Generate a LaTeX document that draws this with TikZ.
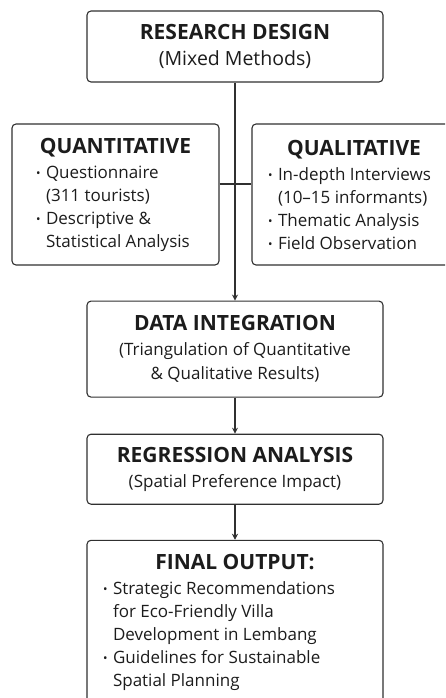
\documentclass[tikz,border=0pt]{standalone}
\usepackage{fontspec}
\usepackage{graphicx}
\setmainfont{Open Sans}
\usetikzlibrary{positioning,arrows.meta}

\definecolor{ink}{HTML}{1C1C1C}
\definecolor{rule}{HTML}{303030}

\newcommand{\headtxt}[1]{{\fontsize{21}{25}\selectfont\bfseries #1}}
\newcommand{\headline}[2]{\makebox[#1]{\headtxt{#2}}}
\newcommand{\bodytxt}{\fontsize{17}{23}\selectfont}
\newcommand{\itm}{\makebox[10pt][l]{\raisebox{1pt}{\scalebox{0.7}{\textbullet}}}}
\newcommand{\cnt}{\hspace*{10pt}}

\begin{document}
\begin{tikzpicture}[x=1pt, y=-1pt, >={Stealth[length=6pt,width=6pt]}]

\useasboundingbox (0,0) rectangle (445,698);
\clip (0,0) rectangle (445,698);

% box and line styles
\tikzstyle{stage} = [rectangle, rounded corners=4pt, draw=rule, line width=1.1pt, minimum width=296pt, text=ink, align=center, font=\bodytxt, inner sep=0pt]
\tikzstyle{branch} = [stage, align=left, minimum width=0pt, minimum height=141pt]
\tikzstyle{link} = [draw=rule, line width=1.1pt]
\tikzstyle{arrow} = [link, ->]

% boxes
\node (design) [stage, minimum height=71pt] at (235,46.5) {\headtxt{RESEARCH DESIGN}\\[3pt] {\fontsize{19.5}{23}\selectfont (Mixed Methods)}};
\node (quan) [branch, inner xsep=24pt] at (115.5,194.5) {\headline{159pt}{QUANTITATIVE}\\[2pt] \itm Questionnaire\\ \cnt(311 tourists)\\ \itm Descriptive \&\\ \cnt Statistical Analysis};
\node (qual) [branch, inner xsep=16pt] at (354,194.5) {\headline{172pt}{QUALITATIVE}\\[2pt] \itm In-depth Interviews\\ \cnt(10--15 informants)\\ \itm Thematic Analysis\\ \itm Field Observation};
\node (integ) [stage, minimum height=96pt, below=218pt of design] {\headtxt{DATA INTEGRATION}\\[2pt] (Triangulation of Quantitative\\[1pt] \& Qualitative Results)};
\node (regr) [stage, minimum height=70pt, below=36pt of integ] {\headtxt{REGRESSION ANALYSIS}\\[2pt] (Spatial Preference Impact)};
\node (final) [stage, align=left, inner xsep=16pt, minimum height=165pt, below=35pt of regr] {\headline{264pt}{FINAL OUTPUT:}\\[2pt] \itm Strategic Recommendations\\ \cnt for Eco-Friendly Villa\\ \cnt Development in Lembang\\ \itm Guidelines for Sustainable\\ \cnt Spatial Planning};

% connectors
\coordinate (hub) at (235,184);
\draw [arrow] (design) -- (integ);
\draw [link] (quan.east |- hub) -- (qual.west |- hub);
\draw [arrow] (integ) -- (regr);
\draw [arrow] (regr) -- (final);
\end{tikzpicture}
\end{document}
